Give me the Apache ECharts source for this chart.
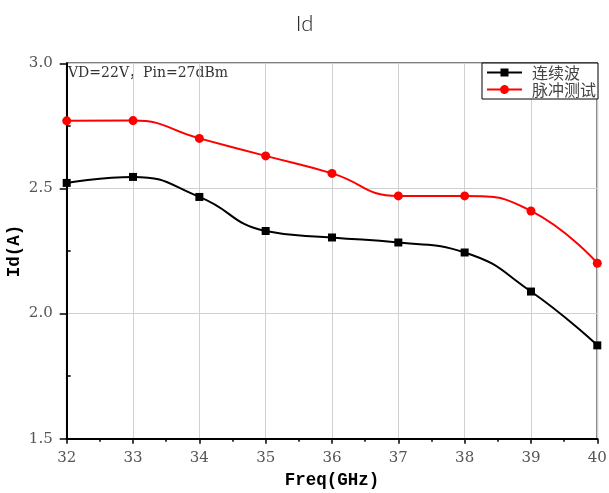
<!DOCTYPE html>
<html><head><meta charset="utf-8">
<script src="https://cdn.jsdelivr.net/npm/echarts@6/dist/echarts.min.js"></script>
<style>html,body{margin:0;padding:0;background:#fff}#c{width:609px;height:493px}</style>
</head><body><div id="c"></div>
<script>
const freq = [32, 33, 34, 35, 36, 37, 38, 39, 40];
const cwValues = [2.522, 2.546, 2.466, 2.330, 2.304, 2.284, 2.244, 2.088, 1.873];
const pulseValues = [2.770, 2.771, 2.700, 2.630, 2.560, 2.470, 2.470, 2.410, 2.201];
const seriesNames = ['连续波', '脉冲测试'];
const titleText = 'Id';
const noteText = 'VD=22V，Pin=27dBm';

const chart = echarts.init(document.getElementById('c'));
const serif = '"DejaVu Serif","Liberation Serif",serif';
chart.setOption({
  animation: false,
  title: { text: titleText, left: 'center', top: 8, textStyle: { fontFamily: 'Lato, "Noto Sans", sans-serif', fontWeight: 300, fontSize: 22, color: '#222' } },
  grid: { left: 66.7, right: 11.7, top: 63.3, bottom: 54.3, outerBoundsMode: 'none', containLabel: false, show: true, borderColor: '#000', borderWidth: 1.5, backgroundColor: 'transparent' },
  legend: {
    orient: 'vertical', right: 11, top: 63, itemGap: 0, padding: [1, 2, 1, 5],
    borderColor: '#000', borderWidth: 1, backgroundColor: '#fff',
    itemWidth: 35, itemHeight: 10,
    textStyle: { fontFamily: '"Noto Sans CJK SC", sans-serif', fontSize: 16, lineHeight: 17, color: '#444', padding: [0, 0, 0, 5] },
    data: [
      { name: seriesNames[0], icon: 'path://M0,4L13.5,4L13.5,1L21.5,1L21.5,4L35,4L35,6L21.5,6L21.5,9L13.5,9L13.5,6L0,6Z' },
      { name: seriesNames[1], icon: 'path://M0,4L13.1,4A4.5,4.5 0 0 1 21.9,4L35,4L35,6L21.9,6A4.5,4.5 0 0 1 13.1,6L0,6Z' }
    ]
  },
  graphic: [{ type: 'text', left: 68, top: 66, style: { text: noteText, font: '14px "DejaVu Serif","Noto Sans CJK SC",serif', fill: '#333' } }],
  xAxis: {
    type: 'value', min: 32, max: 40, interval: 1,
    name: 'Freq(GHz)', nameLocation: 'middle', nameGap: 33, nameMoveOverlap: false,
    nameTextStyle: { fontFamily: '"Liberation Mono","DejaVu Sans Mono",monospace', fontWeight: 'bold', fontSize: 17.5, color: '#000' },
    axisLine: { lineStyle: { color: '#000', width: 2 } },
    axisTick: { length: 5, lineStyle: { color: '#000', width: 1.5 } },
    minorTick: { show: true, splitNumber: 2, length: 3, lineStyle: { color: '#000', width: 1.5 } },
    axisLabel: { fontFamily: serif, fontSize: 15, color: '#555', margin: 12 },
    splitLine: { show: true, lineStyle: { color: '#d0d0d0', width: 1 } }
  },
  yAxis: {
    type: 'value', min: 1.5, max: 3.0, interval: 0.5,
    name: 'Id(A)', nameLocation: 'middle', nameGap: 43, nameMoveOverlap: false,
    nameTextStyle: { fontFamily: '"Liberation Mono","DejaVu Sans Mono",monospace', fontWeight: 'bold', fontSize: 17.5, color: '#000' },
    axisLine: { show: true, lineStyle: { color: '#000', width: 2 } },
    axisTick: { length: 7, lineStyle: { color: '#000', width: 1.5 } },
    minorTick: { show: true, splitNumber: 2, length: -4, lineStyle: { color: '#000', width: 1.5 } },
    axisLabel: { fontFamily: serif, fontSize: 15, color: '#555', margin: 14, formatter: v => v.toFixed(1) },
    splitLine: { show: true, lineStyle: { color: '#d0d0d0', width: 1 } }
  },
  series: [
    { name: seriesNames[0], type: 'line', smooth: 0.5, symbol: 'rect', symbolSize: 8,
      data: freq.map((f, i) => [f, cwValues[i]]),
      lineStyle: { color: '#000', width: 2 }, itemStyle: { color: '#000' }, z: 3 },
    { name: seriesNames[1], type: 'line', smooth: 0.5, symbol: 'circle', symbolSize: 9,
      data: freq.map((f, i) => [f, pulseValues[i]]),
      lineStyle: { color: '#ff0000', width: 2 }, itemStyle: { color: '#ff0000' }, z: 3 }
  ]
});
</script></body></html>
